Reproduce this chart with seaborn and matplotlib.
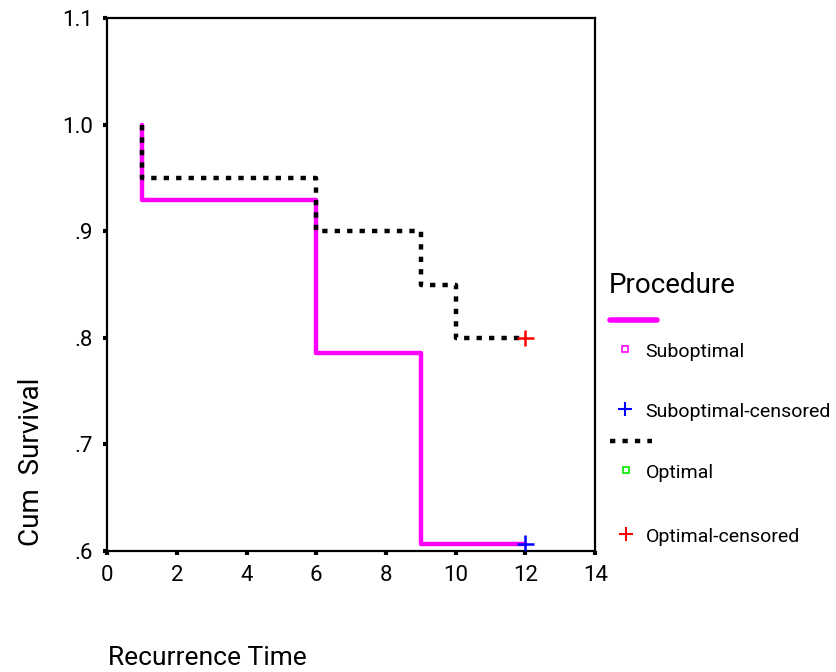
import numpy as np
import pandas as pd
import matplotlib
matplotlib.use("Agg")
import matplotlib.pyplot as plt
from matplotlib.lines import Line2D
import seaborn as sns

# survival steps
sub_time = [1, 1, 6, 9, 12]
sub_surv = [1.0, 0.929, 0.786, 0.607, 0.607]
opt_time = [1, 1, 6, 9, 10, 12]
opt_surv = [1.0, 0.95, 0.90, 0.85, 0.80, 0.80]

# censored cases
cens_time = [12, 12]
cens_surv = [0.607, 0.80]
cens_group = ["Suboptimal-censored", "Optimal-censored"]

x_ticks = [0, 2, 4, 6, 8, 10, 12, 14]
y_ticks = [0.6, 0.7, 0.8, 0.9, 1.0, 1.1]
y_tick_labels = [".6", ".7", ".8", ".9", "1.0", "1.1"]

sns.set_style("white")
plt.rcParams["font.family"] = ["Liberation Sans Narrow", "Roboto", "DejaVu Sans"]
plt.rcParams["text.color"] = "black"
plt.rcParams["xtick.color"] = "black"
plt.rcParams["ytick.color"] = "black"

df = pd.concat([
    pd.DataFrame({"time": sub_time, "surv": sub_surv, "Procedure": "Suboptimal"}),
    pd.DataFrame({"time": opt_time, "surv": opt_surv, "Procedure": "Optimal"}),
])
cens = pd.DataFrame({"time": cens_time, "surv": cens_surv, "group": cens_group})

fig = plt.figure(figsize=(8.36, 6.72), dpi=100)
ax = fig.add_axes([0.128, 0.18, 0.584, 0.793])

sns.lineplot(data=df[df.Procedure == "Suboptimal"], x="time", y="surv",
             color="#ff00ff", lw=3.2, drawstyle="steps-post",
             estimator=None, sort=False, ax=ax)
sns.lineplot(data=df[df.Procedure == "Optimal"], x="time", y="surv",
             color="black", lw=3.2, drawstyle="steps-post",
             estimator=None, sort=False, ax=ax, dashes=False)
ax.lines[-1].set_dashes([1.2, 1.6])
ax.lines[-1].set_dash_capstyle("butt")

sns.scatterplot(data=cens, x="time", y="surv", hue="group",
                palette={"Suboptimal-censored": "blue", "Optimal-censored": "red"},
                marker="+", s=140, linewidth=1.8, legend=False, ax=ax, zorder=5)

ax.set_xlim(0, 14)
ax.set_ylim(0.6, 1.1)
ax.set_xticks(x_ticks)
ax.set_yticks(y_ticks)
ax.set_yticklabels(y_tick_labels)
ax.tick_params(bottom=True, left=True, direction="out", length=3, width=3,
               labelsize=16, color="black", pad=7)
for s in ax.spines.values():
    s.set_color("black")
    s.set_linewidth(1.6)
ax.set_xlabel("")
ax.set_ylabel("")

fig.text(0.038, 0.313, "Cum  Survival", rotation=90, fontsize=20,
         ha="center", va="center")
fig.text(0.129, 0.021, "Recurrence Time", fontsize=19, ha="left", va="center")

# legend, SPSS style
fig.text(0.728, 0.575, "Procedure", fontsize=20, ha="left", va="center")
fig.add_artist(Line2D([0.730, 0.786], [0.524, 0.524], color="#ff00ff", lw=4,
                      transform=fig.transFigure))
fig.add_artist(Line2D([0.748], [0.481], marker="s", ms=5, mfc="none", mec="#ff00ff",
                      mew=1.2, ls="none", transform=fig.transFigure))
fig.text(0.772, 0.476, "Suboptimal", fontsize=14, ha="left", va="center")
fig.add_artist(Line2D([0.748], [0.391], marker="+", ms=10, color="blue",
                      mew=1.5, ls="none", transform=fig.transFigure))
fig.text(0.772, 0.387, "Suboptimal-censored", fontsize=14, ha="left", va="center")
fig.add_artist(Line2D([0.730, 0.780], [0.344, 0.344], color="black", lw=3.2,
                      dashes=[1.2, 1.6], dash_capstyle="butt", transform=fig.transFigure))
fig.add_artist(Line2D([0.749], [0.300], marker="s", ms=5, mfc="none", mec="#00ee00",
                      mew=1.2, ls="none", transform=fig.transFigure))
fig.text(0.772, 0.296, "Optimal", fontsize=14, ha="left", va="center")
fig.add_artist(Line2D([0.749], [0.205], marker="+", ms=10, color="red",
                      mew=1.5, ls="none", transform=fig.transFigure))
fig.text(0.772, 0.201, "Optimal-censored", fontsize=14, ha="left", va="center")

fig.savefig("out.png", dpi=100)
